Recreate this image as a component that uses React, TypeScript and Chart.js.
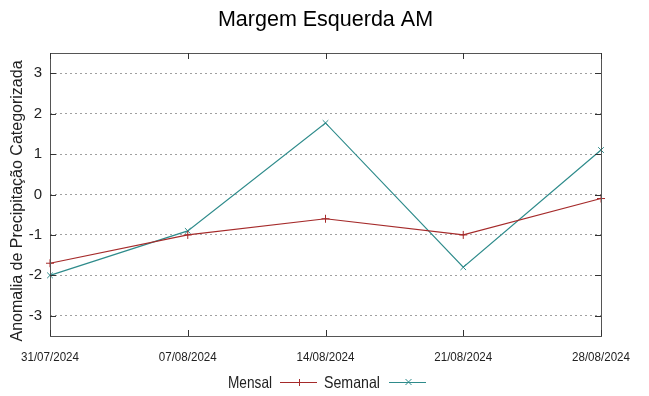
import React, { useEffect, useRef } from "react";
import { Chart, registerables } from "chart.js";

Chart.register(...registerables);

const categories = ["31/07/2024", "07/08/2024", "14/08/2024", "21/08/2024", "28/08/2024"];
const mensal = [-1.7, -1.0, -0.6, -1.0, -0.1];
const semanal = [-2.0, -0.9, 1.77, -1.8, 1.1];
const yTicks = [-3, -2, -1, 0, 1, 2, 3];

const MENSAL_COLOR = "#a52a2a";
const SEMANAL_COLOR = "#2e8b8b";

function fitText(ctx: any, text: string, x: number, y: number, width: number, align: "left" | "center") {
  const w = ctx.measureText(text).width;
  const sx = width / w;
  ctx.save();
  ctx.translate(x, y);
  ctx.scale(sx, 1);
  ctx.textAlign = align;
  ctx.fillText(text, 0, 0);
  ctx.restore();
}

const decorPlugin = {
  id: "decor",
  afterDatasetsDraw(chart: any) {
    const { ctx, chartArea } = chart;
    const { left, right, top, bottom } = chartArea;
    const xs = chart.scales.x;
    const ys = chart.scales.y;
    ctx.save();
    // border
    ctx.strokeStyle = "#555555";
    ctx.lineWidth = 1;
    ctx.strokeRect(Math.round(left) + 0.5, Math.round(top) + 0.5, Math.round(right - left), Math.round(bottom - top));
    // inside ticks
    ctx.strokeStyle = "#333333";
    ctx.beginPath();
    for (let i = 0; i < categories.length; i++) {
      const x = Math.round(xs.getPixelForValue(i)) + 0.5;
      ctx.moveTo(x, bottom);
      ctx.lineTo(x, bottom - 6);
      ctx.moveTo(x, top);
      ctx.lineTo(x, top + 6);
    }
    for (const v of yTicks) {
      const y = Math.round(ys.getPixelForValue(v)) + 0.5;
      ctx.moveTo(left, y);
      ctx.lineTo(left + 6, y);
      ctx.moveTo(right, y);
      ctx.lineTo(right - 6, y);
    }
    ctx.stroke();
    // x tick labels (condensed)
    ctx.fillStyle = "#222222";
    ctx.textBaseline = "middle";
    ctx.font = "13px 'Liberation Sans', Arial, sans-serif";
    for (let i = 0; i < categories.length; i++) {
      fitText(ctx, categories[i], xs.getPixelForValue(i), 357, 58, "center");
    }
    // title
    ctx.fillStyle = "#000000";
    ctx.font = "21.5px 'Liberation Sans', Arial, sans-serif";
    ctx.textAlign = "center";
    ctx.fillText("Margem Esquerda AM", 325.5, 20);
    // y title
    ctx.save();
    ctx.translate(18, 201);
    ctx.rotate(-Math.PI / 2);
    ctx.font = "16px 'Liberation Sans', Arial, sans-serif";
    ctx.fillStyle = "#222222";
    ctx.fillText("Anomalia de Precipitação Categorizada", 0, 0);
    ctx.restore();
    // legend
    ctx.font = "16.5px 'Liberation Sans', Arial, sans-serif";
    const ly = 383;
    const items = [
      { label: "Mensal", color: MENSAL_COLOR, style: "plus", tx: 228, tw: 44, lx: 280, lw: 37 },
      { label: "Semanal", color: SEMANAL_COLOR, style: "x", tx: 324, tw: 56, lx: 389, lw: 37 },
    ];
    for (const it of items) {
      ctx.fillStyle = "#222222";
      fitText(ctx, it.label, it.tx, ly, it.tw, "left");
      const x = it.lx;
      ctx.strokeStyle = it.color;
      ctx.beginPath();
      ctx.moveTo(x, ly - 0.5);
      ctx.lineTo(x + it.lw, ly - 0.5);
      const cx = Math.round(x + it.lw / 2) + 0.5;
      if (it.style === "plus") {
        ctx.moveTo(cx, ly - 4);
        ctx.lineTo(cx, ly + 3);
      } else {
        ctx.moveTo(cx - 3, ly - 4);
        ctx.lineTo(cx + 3, ly + 2);
        ctx.moveTo(cx + 3, ly - 4);
        ctx.lineTo(cx - 3, ly + 2);
      }
      ctx.stroke();
    }
    ctx.restore();
  },
};

export default function App() {
  const ref = useRef<HTMLCanvasElement | null>(null);
  useEffect(() => {
    document.body.style.margin = "0";
    const c = ref.current;
    if (!c) return;
    const chart = new Chart(c, {
      type: "line",
      data: {
        labels: categories,
        datasets: [
          {
            label: "Mensal",
            data: mensal,
            borderColor: MENSAL_COLOR,
            backgroundColor: MENSAL_COLOR,
            borderWidth: 1.2,
            pointStyle: "cross",
            pointRadius: 4,
            pointBorderWidth: 1,
            tension: 0,
          },
          {
            label: "Semanal",
            data: semanal,
            borderColor: SEMANAL_COLOR,
            backgroundColor: SEMANAL_COLOR,
            borderWidth: 1.2,
            pointStyle: "crossRot",
            pointRadius: 4,
            pointBorderWidth: 1,
            tension: 0,
          },
        ],
      },
      options: {
        animation: false,
        responsive: false,
        maintainAspectRatio: false,
        layout: { padding: { left: 0, right: 48, top: 53, bottom: 0 } },
        plugins: {
          legend: { display: false },
          title: { display: false },
          tooltip: { enabled: false },
        },
        scales: {
          x: {
            type: "category",
            offset: false,
            grid: { display: false, drawTicks: false },
            border: { display: false },
            ticks: { display: false, autoSkip: false },
            afterFit(scale: any) {
              scale.height = 60;
            },
          },
          y: {
            min: -3.5,
            max: 3.5,
            afterBuildTicks(scale: any) {
              scale.ticks = yTicks.map((v) => ({ value: v }));
            },
            grid: {
              color: "#a0a0a0",
              drawTicks: false,
            },
            border: { display: false, dash: [2, 3] },
            ticks: {
              color: "#222222",
              font: { family: "'Liberation Sans', Arial, sans-serif", size: 15 },
              padding: 8,
            },
            afterFit(scale: any) {
              scale.width = 50;
            },
          },
        },
      } as any,
      plugins: [decorPlugin],
    });
    return () => chart.destroy();
  }, []);
  return <canvas ref={ref} width={649} height={396} style={{ display: "block" }} />;
}
